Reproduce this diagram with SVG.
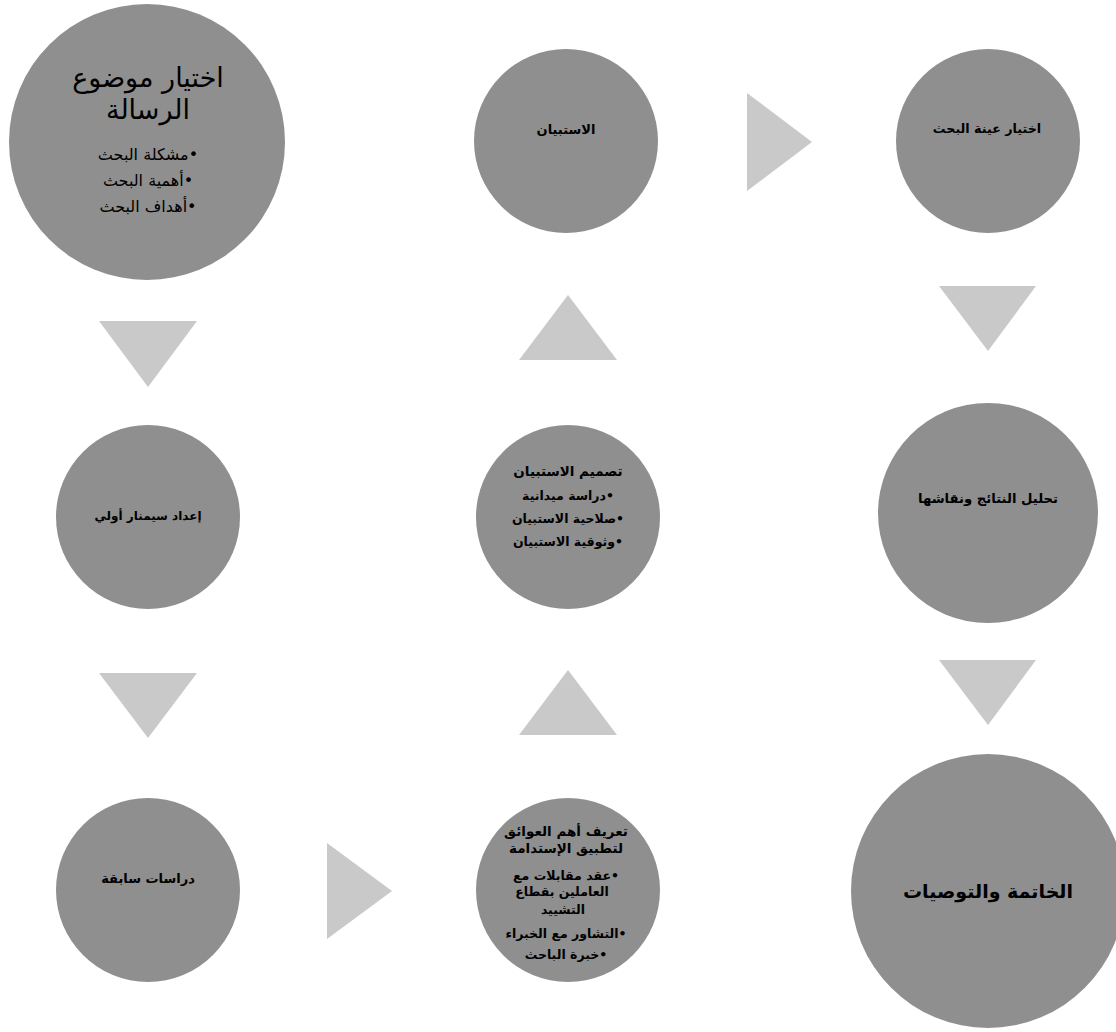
<svg xmlns="http://www.w3.org/2000/svg" width="1116" height="1032" viewBox="0 0 1116 1032">
<style>
.node{fill:#8f8f8f}
.arr{fill:#c9c9c9}
text{font-family:"DejaVu Sans","Liberation Sans","Noto Sans",sans-serif;fill:#000;text-anchor:middle;direction:rtl}
.b{font-weight:bold}
</style>
<rect width="1116" height="1032" fill="#fff"/>
<g id="connectors">
<polygon class="arr" points="99,321 197,321 148,387"/>
<polygon class="arr" points="99,673 197,673 148,738"/>
<polygon class="arr" points="327,843 327,939 392,891"/>
<polygon class="arr" points="519,735 617,735 568,670"/>
<polygon class="arr" points="519,360 617,360 568,295"/>
<polygon class="arr" points="747,93 747,191 812,142"/>
<polygon class="arr" points="939,286 1036,286 988,351"/>
<polygon class="arr" points="939,660 1036,660 988,725"/>
</g>
<g id="n1">
<circle class="node" cx="147" cy="142" r="138"/>
<text x="148" y="87" font-size="27">اختيار موضوع</text>
<text x="148" y="119" font-size="27">الرسالة</text>
<text x="148" y="160" font-size="16">•مشكلة البحث</text>
<text x="148" y="186" font-size="16">•أهمية البحث</text>
<text x="148" y="212" font-size="16">•أهداف البحث</text>
</g>
<g id="n2">
<circle class="node" cx="148" cy="517" r="92"/>
<text class="b" x="148" y="520" font-size="12">إعداد سيمنار أولي</text>
</g>
<g id="n3">
<circle class="node" cx="148" cy="890" r="92"/>
<text class="b" x="148" y="883" font-size="13">دراسات سابقة</text>
</g>
<g id="n4">
<circle class="node" cx="568" cy="890" r="92"/>
<text class="b" x="566" y="836" font-size="13.5">تعريف أهم العوائق</text>
<text class="b" x="566" y="853" font-size="13.5">لتطبيق الإستدامة</text>
<text class="b" x="566" y="880" font-size="12.5">•عقد مقابلات مع</text>
<text class="b" x="562" y="896" font-size="12.5">العاملين بقطاع</text>
<text class="b" x="563" y="914" font-size="12.5">التشييد</text>
<text class="b" x="566" y="938" font-size="12.5">•التشاور مع الخبراء</text>
<text class="b" x="566" y="959" font-size="12.5">•خبرة الباحث</text>
</g>
<g id="n5">
<circle class="node" cx="568" cy="517" r="92"/>
<text class="b" x="568" y="476" font-size="13.5">تصميم الاستبيان</text>
<text class="b" x="568" y="500" font-size="12.5">•دراسة ميدانية</text>
<text class="b" x="568" y="523" font-size="12.5">•صلاحية الاستبيان</text>
<text class="b" x="568" y="546" font-size="12.5">•وثوقية الاستبيان</text>
</g>
<g id="n6">
<circle class="node" cx="566" cy="141" r="92"/>
<text class="b" x="566" y="134" font-size="13">الاستبيان</text>
</g>
<g id="n7">
<circle class="node" cx="988" cy="141" r="92"/>
<text class="b" x="987" y="133" font-size="12.7">اختيار عينة البحث</text>
</g>
<g id="n8">
<circle class="node" cx="988" cy="513" r="110"/>
<text class="b" x="988" y="503" font-size="13.2">تحليل النتائج ونقاشها</text>
</g>
<g id="n9">
<circle class="node" cx="988" cy="891" r="137"/>
<text class="b" x="988" y="898" font-size="19">الخاتمة والتوصيات</text>
</g>
</svg>
